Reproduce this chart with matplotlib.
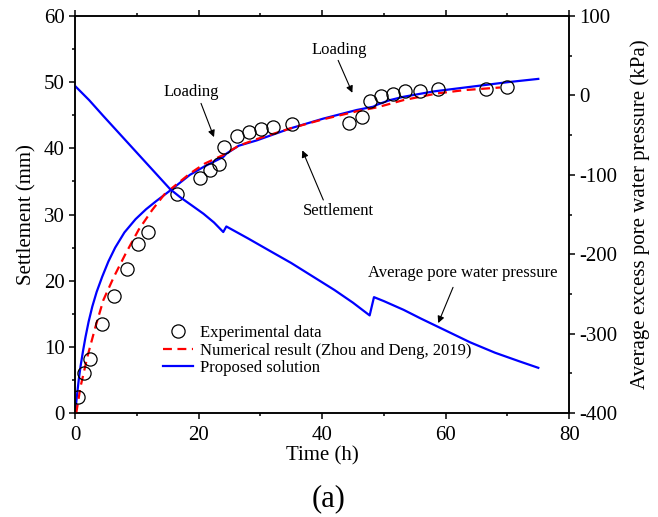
import matplotlib.pyplot as plt
from matplotlib.ticker import MultipleLocator

plt.rcParams['font.family'] = 'Liberation Serif'
plt.rcParams['axes.unicode_minus'] = False

# Experimental settlement (time in h, settlement in mm)
t_exp = [0.5, 1.5, 2.4, 4.3, 6.3, 8.4, 10.2, 11.8, 16.5, 20.3, 21.9, 23.3,
         24.2, 26.2, 28.1, 30.1, 32.0, 35.1, 44.4, 46.5, 47.7, 49.5, 51.4,
         53.4, 55.8, 58.8, 66.5, 69.9]
s_exp = [2.4, 6.1, 8.2, 13.4, 17.7, 21.7, 25.5, 27.3, 33.1, 35.5, 36.7, 37.6,
         40.2, 41.9, 42.5, 42.9, 43.2, 43.7, 43.9, 44.7, 47.2, 47.9, 48.2,
         48.6, 48.7, 48.9, 49.0, 49.2]

# Numerical result (Zhou and Deng, 2019)
t_num = [0.2, 0.9, 2.0, 3.3, 4.6, 6.3, 8.2, 10.3, 12.5, 14.6, 15.7, 18.6,
         21.0, 24.0, 26.5, 29.4, 34.8, 40.2, 45.6, 48.9, 53.2, 58.6, 63.0, 68.8]
s_num = [0.0, 4.0, 8.5, 13.0, 17.1, 20.6, 24.1, 27.7, 30.7, 33.2, 34.0, 36.2,
         37.7, 39.0, 40.4, 41.4, 43.0, 44.4, 45.6, 46.2, 47.3, 48.3, 48.8, 49.2]

# Proposed solution - settlement
t_sol = [0.0, 0.15, 0.35, 0.6, 0.9, 1.3, 1.7, 2.2, 2.8, 3.5, 4.4, 5.4, 6.5,
         8.0, 9.8, 11.5, 13.1, 15.5, 18.6, 21.0, 24.0, 24.5, 26.5, 29.4,
         34.8, 40.2, 45.6, 48.3, 48.9, 51.0, 53.2, 58.0, 64.0, 70.0, 75.0]
s_sol = [0.0, 1.2, 2.9, 5.0, 7.1, 9.4, 11.5, 13.8, 16.1, 18.3, 20.6, 22.9,
         25.0, 27.3, 29.3, 30.8, 32.0, 33.7, 36.0, 37.3, 38.7, 39.2, 40.4,
         41.2, 43.0, 44.5, 45.8, 46.3, 46.6, 47.3, 47.8, 48.6, 49.3, 50.0,
         50.5]

# Proposed solution - average excess pore water pressure (kPa)
t_pwp = [0.0, 2.3, 4.6, 7.3, 10.0, 12.7, 15.4, 17.0, 19.0, 20.8, 22.5, 24.0,
         24.5, 28.0, 31.6, 35.0, 38.5, 42.0, 45.0, 47.7, 48.4, 50.0, 53.2,
         56.0, 60.0, 64.0, 68.0, 72.0, 75.0]
p_pwp = [12, -6, -26, -49, -72, -95, -118, -128, -139, -149, -160, -172,
         -165, -180, -196, -211, -228, -245, -261, -277, -254, -259, -270,
         -281, -296, -311, -324, -335, -343]

fig = plt.figure(figsize=(6.58, 5.17), dpi=100)
ax = fig.add_axes([0.114, 0.201, 0.751, 0.768])
ax2 = ax.twinx()

sc, = ax.plot(t_exp, s_exp, 'o', ms=9.5, mfc='none', mec='black', mew=0.9,
              label='Experimental data', zorder=4)
num, = ax.plot(t_num, s_num, color='red', lw=1.6, dashes=(4, 2.5),
               label='Numerical result (Zhou and Deng, 2019)', zorder=3)
sol, = ax.plot(t_sol, s_sol, color='blue', lw=1.6, label='Proposed solution',
               zorder=2)
ax2.plot(t_pwp, p_pwp, color='blue', lw=1.6)

ax.set_xlim(0, 80)
ax.set_ylim(0, 60)
ax2.set_ylim(-400, 100)

ax.xaxis.set_major_locator(MultipleLocator(20))
ax.xaxis.set_minor_locator(MultipleLocator(10))
ax.yaxis.set_major_locator(MultipleLocator(10))
ax.yaxis.set_minor_locator(MultipleLocator(5))
ax2.yaxis.set_major_locator(MultipleLocator(100))
ax2.yaxis.set_minor_locator(MultipleLocator(50))

ax.tick_params(which='both', direction='out', top=True, labelsize=15,
               width=1.1, color='black')
ax.tick_params(which='major', length=4)
ax.tick_params(which='minor', length=2.5)
ax.tick_params(axis='x', pad=5)
ax2.tick_params(which='both', direction='out', labelsize=15, width=1.1)
ax2.tick_params(which='major', length=4)
ax2.tick_params(which='minor', length=2.5)
for a in (ax, ax2):
    for sp in a.spines.values():
        sp.set_linewidth(1.1)

ax.set_xlabel('Time (h)', fontsize=15, labelpad=1)
ax.set_ylabel('Settlement (mm)', fontsize=15, labelpad=5)
ax2.set_ylabel('Average excess pore water pressure (kPa)', fontsize=15,
               labelpad=9)

arrow = dict(arrowstyle='-|>', color='black', lw=0.8, mutation_scale=10,
             shrinkA=0, shrinkB=0)
ax.text(18.8, 48.5, 'Loading', fontsize=12, ha='center', va='center')
ax.annotate('', xy=(22.5, 41.7), xytext=(20.4, 46.8), arrowprops=arrow)
ax.text(42.8, 54.9, 'Loading', fontsize=12, ha='center', va='center')
ax.annotate('', xy=(44.9, 48.4), xytext=(42.6, 53.3), arrowprops=arrow)
ax.text(42.6, 30.5, 'Settlement', fontsize=12, ha='center', va='center')
ax.annotate('', xy=(36.8, 39.7), xytext=(40.2, 32.2), arrowprops=arrow)
ax.text(62.8, 21.2, 'Average pore water pressure', fontsize=12,
        ha='center', va='center')
ax.annotate('', xy=(58.8, 13.6), xytext=(61.2, 19.0), arrowprops=arrow)

ax.legend(handles=[sc, num, sol], loc='upper left',
          bbox_to_anchor=(0.178, 0.222), frameon=False, fontsize=12,
          handlelength=1.8, handletextpad=0.4, labelspacing=0.1,
          borderpad=0, borderaxespad=0)

fig.text(0.5, 0.036, '(a)', fontsize=22, ha='center', va='center')

plt.savefig('out.png', dpi=100)
